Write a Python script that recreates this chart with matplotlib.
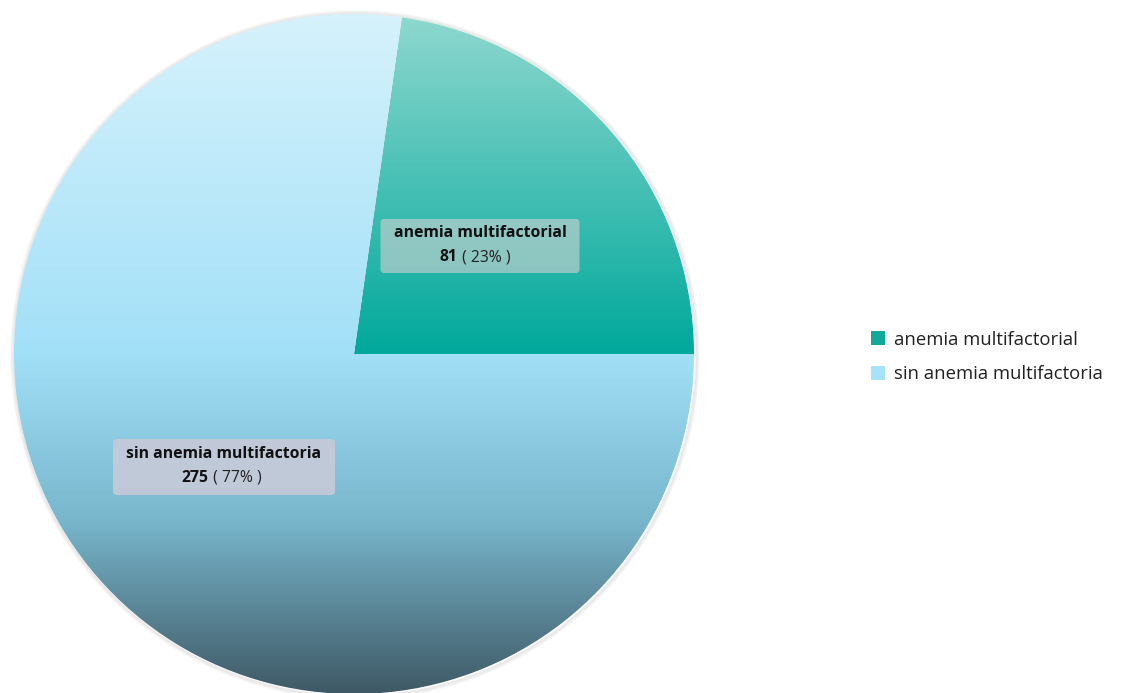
import numpy as np
import matplotlib
matplotlib.use("Agg")
import matplotlib.pyplot as plt
from matplotlib.patches import Patch, FancyBboxPatch, Circle
from matplotlib.colors import to_rgb

categories = ["anemia multifactorial", "sin anemia multifactoria"]
values = [81, 275]
legend_colors = ["#10a99a", "#a6e2f8"]

W, H = 1122, 693
fig = plt.figure(figsize=(W / 100, H / 100), dpi=100)
ax = fig.add_axes([0, 0, 1, 1])
ax.axis("off")

cx, cy_pix, R = 354, 354, 340
cy = H - cy_pix

# soft shadow
for i, a in enumerate([0.05, 0.04, 0.03, 0.02]):
    ax.add_patch(Circle((cx + 1, cy - 1), R + 1 + i, facecolor="none",
                        edgecolor="#000000", lw=1.5, alpha=a, zorder=1))

wedges, _ = ax.pie(values, startangle=0, counterclock=True, center=(cx, cy),
                   radius=R, wedgeprops=dict(linewidth=0, edgecolor="none"),
                   frame=False)

# gradients (in pixel-y from top)
grad_stops = [
    [(14, "#8fd8cf"), (354, "#00a89b")],
    [(14, "#d6f2fc"), (354, "#a2e0f8"), (520, "#78b6cc"), (694, "#3e5864")],
]

ys = np.arange(0, H + 1)
for w, stops in zip(wedges, grad_stops):
    w.set_facecolor("none")
    ypx = np.array([s[0] for s in stops], float)
    cols = np.array([to_rgb(s[1]) for s in stops])
    img = np.zeros((H + 1, 1, 3))
    for c in range(3):
        img[:, 0, c] = np.interp(ys, ypx, cols[:, c])
    im = ax.imshow(img, extent=[cx - R - 2, cx + R + 2, -1, H], aspect="auto",
                   interpolation="bilinear", zorder=2, origin="upper")
    im.set_clip_path(w)

ax.set_xlim(0, W)
ax.set_ylim(0, H)
ax.set_aspect("auto")

font = "Open Sans"
fs = 11.3

def label(xc, yc_pix, w, h, name, val, pct, fc, alpha, num_end_x):
    ax.add_patch(FancyBboxPatch((xc - w / 2, H - yc_pix - h / 2), w, h,
                                boxstyle="round,pad=0,rounding_size=4",
                                facecolor=fc, edgecolor="none", alpha=alpha, zorder=5))
    ax.text(xc, H - (yc_pix - 13), name, ha="center", va="center",
            fontsize=fs, fontweight="bold", family=font, color="#111111", zorder=6)
    ax.text(num_end_x, H - (yc_pix + 11), str(val), ha="right", va="center",
            fontsize=fs, fontweight="bold", family=font, color="#111111", zorder=6)
    ax.text(num_end_x + 1, H - (yc_pix + 11), " ( %d%% )" % pct, ha="left", va="center",
            fontsize=fs, family=font, color="#222222", zorder=6)

total = sum(values)
pcts = [round(v * 100 / total) for v in values]
label(480, 246, 199, 54, categories[0], values[0], pcts[0], "#d2d2d2", 0.6, 457)
label(224, 467, 222, 56, categories[1], values[1], pcts[1], "#c6cad8", 0.92, 208)

handles = [Patch(facecolor=c, edgecolor="none") for c in legend_colors]
leg = fig.legend(handles, categories, loc="center left",
                 bbox_to_anchor=(854 / W, 1 - 357 / H), frameon=False,
                 prop=dict(family=font, size=13.3), handlelength=0.8,
                 handleheight=0.8, handletextpad=0.45, labelspacing=0.9)
for t in leg.get_texts():
    t.set_color("#222222")

fig.savefig("out.png", dpi=100)
